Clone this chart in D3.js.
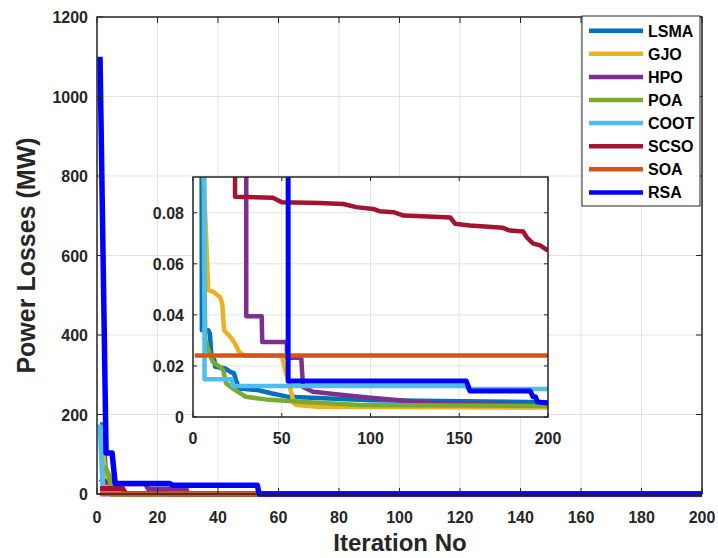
<!DOCTYPE html>
<html>
<head>
<meta charset="utf-8">
<script src="https://cdn.jsdelivr.net/npm/d3@7"></script>
<style>
  body { margin: 0; background: #fff; }
  text { font-family: "Liberation Sans", Arial, Helvetica, sans-serif; font-weight: bold; }
</style>
</head>
<body>
<div id="chart"></div>
<script>
// algorithm names, legend order (also drawing order)
var algorithms = ["LSMA", "GJO", "HPO", "POA", "COOT", "SCSO", "SOA", "RSA"];

// convergence curves as [iteration, power loss]
var lsma = [[1,174],[2,174],[3,25],[4,1],[4.6,0.2],[5,0.034],[8.6,0.034],[9.5,0.0327],[10.5,0.0229],[12,0.0225],
  [12.5,0.0197],[18.2,0.019],[21,0.0177],[23,0.0172],[24.2,0.0145],[26,0.0112],[37,0.0105],[44,0.0093],
  [53.6,0.0079],[100,0.0066],[200,0.0058]];
var gjo = [[1,165],[2,100],[3,30],[4,3],[5.5,0.2],[6,0.094],[8.6,0.0496],[11.5,0.049],[15.2,0.047],[16.5,0.0444],
  [17.5,0.034],[21,0.0314],[23.5,0.029],[26,0.0255],[29,0.024],[50,0.024],[52,0.0184],[57,0.0053],[58.5,0.0047],
  [70,0.004],[200,0.0037]];
var hpo = [[1,38],[3,30],[5,26],[16,26],[17,12.5],[29.5,12.5],[30,0.0395],[38.7,0.0395],[39,0.0294],[52.8,0.0294],
  [53,0.0232],[61,0.0232],[62,0.0118],[67.6,0.0099],[84.5,0.0086],[100,0.0075],[116,0.0066],[140,0.0052],[200,0.0045]];
var poa = [[1,72],[2,70],[3,64],[4,45],[5,2],[5.5,0.3],[6,0.094],[6.2,0.06],[7,0.03],[9.5,0.0245],[11.2,0.0216],
  [15,0.0197],[17,0.0184],[18.6,0.0132],[22.3,0.0112],[29.8,0.0079],[41,0.0069],[60,0.006],[78.7,0.0053],
  [94,0.0047],[200,0.0043]];
var coot = [[1,175],[2,5],[6,0.3],[6.5,0.0148],[21.8,0.0148],[22.3,0.0121],[154,0.0121],[155,0.011],[200,0.011]];
var scso = [[1,14],[8.5,14],[9.5,0.5],[23.4,0.5],[23.7,0.0863],[45,0.0859],[50,0.0841],[71.5,0.0838],[84.7,0.0834],
  [92,0.0822],[101.5,0.0815],[105,0.0806],[113,0.0802],[118.6,0.0789],[139,0.0783],[145,0.0781],[147.6,0.0757],
  [156,0.075],[174.6,0.0741],[178.6,0.073],[186,0.0727],[188,0.0704],[191.5,0.068],[195.5,0.0672],[200,0.0652]];
var soa = [[1,0.0241],[200,0.0241]];
var rsa = [[1,1100],[3,103],[5,103],[6,26.5],[24,26.5],[25,22],[53,22],[53.6,0.0141],[154,0.0141],[156,0.0102],
  [190,0.0102],[191.5,0.0079],[193,0.0079],[194,0.0059],[200,0.0055]];
var series = [lsma, gjo, hpo, poa, coot, scso, soa, rsa];

// tick values
var xTicks = [0, 20, 40, 60, 80, 100, 120, 140, 160, 180, 200];
var yTicks = [0, 200, 400, 600, 800, 1000, 1200];
var insetXTicks = [0, 50, 100, 150, 200];
var insetYTicks = [0, 0.02, 0.04, 0.06, 0.08];

var colors = ["#0072BD", "#EDB120", "#7E2F8E", "#77AC30", "#4DBEEE", "#A2142F", "#D95319", "#0000FF"];
var axisColor = "#262626";
var gridColor = "#e3e3e3";

var svg = d3.select("#chart").append("svg")
  .attr("width", 718)
  .attr("height", 558);

// main axes
var x = d3.scaleLinear().domain([0, 200]).range([97, 702]);
var y = d3.scaleLinear().domain([0, 1200]).range([494, 17]);

function drawGrid(g, xs, ys, xt, yt) {
  g.selectAll(".gx").data(xt).enter().append("line")
    .attr("x1", d => xs(d)).attr("x2", d => xs(d))
    .attr("y1", ys.range()[0]).attr("y2", ys.range()[1])
    .attr("stroke", gridColor).attr("stroke-width", 1);
  g.selectAll(".gy").data(yt).enter().append("line")
    .attr("y1", d => ys(d)).attr("y2", d => ys(d))
    .attr("x1", xs.range()[0]).attr("x2", xs.range()[1])
    .attr("stroke", gridColor).attr("stroke-width", 1);
}

function drawAxes(g, xs, ys, xt, yt, fmtY, tick, labelDy) {
  var x0 = xs.range()[0], x1 = xs.range()[1], y0 = ys.range()[0], y1 = ys.range()[1];
  // inward ticks on all four sides
  xt.forEach(function(d) {
    g.append("line").attr("x1", xs(d)).attr("x2", xs(d)).attr("y1", y0).attr("y2", y0 - tick)
      .attr("stroke", axisColor).attr("stroke-width", 1);
    g.append("line").attr("x1", xs(d)).attr("x2", xs(d)).attr("y1", y1).attr("y2", y1 + tick)
      .attr("stroke", axisColor).attr("stroke-width", 1);
  });
  yt.forEach(function(d) {
    g.append("line").attr("y1", ys(d)).attr("y2", ys(d)).attr("x1", x0).attr("x2", x0 + tick)
      .attr("stroke", axisColor).attr("stroke-width", 1);
    g.append("line").attr("y1", ys(d)).attr("y2", ys(d)).attr("x1", x1).attr("x2", x1 - tick)
      .attr("stroke", axisColor).attr("stroke-width", 1);
  });
  g.append("rect")
    .attr("x", x0).attr("y", y1).attr("width", x1 - x0).attr("height", y0 - y1)
    .attr("fill", "none").attr("stroke", axisColor).attr("stroke-width", 1.5);
  g.selectAll(".tx").data(xt).enter().append("text")
    .attr("x", d => xs(d)).attr("y", y0 + labelDy)
    .attr("text-anchor", "middle").attr("font-size", 16).attr("fill", axisColor)
    .text(d => d);
  g.selectAll(".ty").data(yt).enter().append("text")
    .attr("x", x0 - 9).attr("y", d => ys(d) + 6)
    .attr("text-anchor", "end").attr("font-size", 16).attr("fill", axisColor)
    .text(fmtY);
}

var main = svg.append("g");
main.append("rect").attr("x", 97).attr("y", 17).attr("width", 605).attr("height", 477).attr("fill", "#fff");
drawGrid(main, x, y, xTicks, yTicks);

var mainLine = d3.line().x(d => x(d[0])).y(d => y(d[1]));
main.selectAll(".curve").data(series).enter().append("path")
  .attr("d", mainLine)
  .attr("fill", "none")
  .attr("stroke", (d, i) => colors[i])
  .attr("stroke-width", (d, i) => i === 7 ? 5.5 : 5)
  .attr("stroke-linejoin", "round");

drawAxes(main, x, y, xTicks, yTicks, d => d, 6, 29);

// axis titles
svg.append("text")
  .attr("x", 400).attr("y", 551)
  .attr("text-anchor", "middle").attr("font-size", 24).attr("fill", axisColor)
  .text("Iteration No");
svg.append("text")
  .attr("transform", "translate(35,255.5) rotate(-90)")
  .attr("text-anchor", "middle").attr("font-size", 25).attr("fill", axisColor)
  .text("Power Losses (MW)");

// inset axes (zoom on the tail)
var xi = d3.scaleLinear().domain([0, 200]).range([193, 548]);
var yi = d3.scaleLinear().domain([0, 0.094]).range([417, 177]);

var inset = svg.append("g");
inset.append("rect").attr("x", 193).attr("y", 177).attr("width", 355).attr("height", 240).attr("fill", "#fff");
drawGrid(inset, xi, yi, insetXTicks, insetYTicks);

svg.append("clipPath").attr("id", "insetClip")
  .append("rect").attr("x", 193).attr("y", 177).attr("width", 355).attr("height", 243);

var insetLine = d3.line().x(d => xi(d[0])).y(d => yi(d[1]));
inset.append("g").attr("clip-path", "url(#insetClip)")
  .selectAll("path").data(series).enter().append("path")
  .attr("d", insetLine)
  .attr("fill", "none")
  .attr("stroke", (d, i) => colors[i])
  .attr("stroke-width", (d, i) => i === 7 ? 5 : 4.5)
  .attr("stroke-linejoin", "round");

drawAxes(inset, xi, yi, insetXTicks, insetYTicks, d => d === 0 ? "0" : d3.format(".2f")(d), 4, 27);

// legend
var legend = svg.append("g");
legend.append("rect")
  .attr("x", 582).attr("y", 16).attr("width", 118).attr("height", 190)
  .attr("fill", "#fff").attr("stroke", axisColor).attr("stroke-width", 1);
var entry = legend.selectAll(".entry").data(algorithms).enter().append("g")
  .attr("transform", (d, i) => "translate(0," + (30.7 + i * 23.1) + ")");
entry.append("line")
  .attr("x1", 589).attr("x2", 643).attr("y1", 0).attr("y2", 0)
  .attr("stroke", (d, i) => colors[i]).attr("stroke-width", 4.5);
entry.append("text")
  .attr("x", 648).attr("y", 6)
  .attr("font-size", 16).attr("fill", "#000")
  .text(d => d);
</script>
</body>
</html>
